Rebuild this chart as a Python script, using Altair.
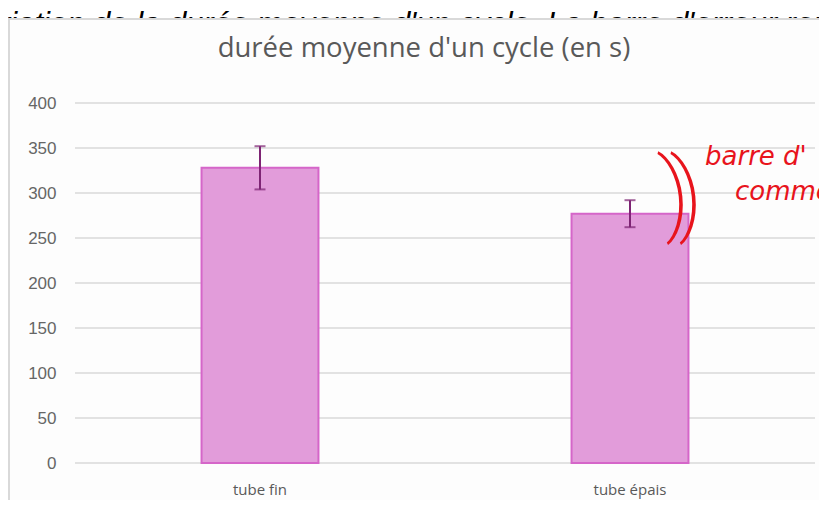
import altair as alt
import pandas as pd

categories = ["tube fin", "tube épais"]
means = [328, 277]
errors = [24, 15]
y_ticks = [0, 50, 100, 150, 200, 250, 300, 350, 400]
title_text = ["durée moyenne d'un cycle (en s)"]
background_line = ["riation de la durée moyenne d'un cycle. La barre d'erreur rep"]
note_lines = ["barre d'", "commen"]
brackets = [")", ")"]

df = pd.DataFrame({"cat": categories, "mean": means, "err": errors})
df["low"] = df["mean"] - df["err"]
df["high"] = df["mean"] + df["err"]
grid_df = pd.DataFrame({"v": y_ticks})

W, H = 740, 360

y_scale = alt.Scale(domain=[0, 400], nice=False)
y_axis = alt.Axis(
    title=None, values=y_ticks, grid=False, domain=False, ticks=False, tickSize=0,
    labelPadding=19, labelFont="Liberation Sans", labelFontSize=17,
    labelColor="#666666", zindex=1,
)
x_scale = alt.Scale(paddingInner=0.684, paddingOuter=0.342)
x_axis = alt.Axis(
    title=None, labelAngle=0, domain=False, ticks=False, tickSize=0, labelPadding=19,
    labelFont="Open Sans", labelFontSize=15, labelColor="#595959", zindex=1,
)
x_enc = alt.X("cat:N", sort=categories, scale=x_scale, axis=x_axis)

bg_text = alt.Chart(pd.DataFrame({"t": background_line})).mark_text(
    align="left", baseline="alphabetic", font="Liberation Sans", fontStyle="italic",
    fontSize=31, color="black",
).encode(x=alt.value(-75), y=alt.value(-69), text="t:N")

frame = alt.Chart(pd.DataFrame({"a": [0]})).mark_rect(
    fill="#fdfdfd", stroke="#d9d9d9", strokeWidth=2
).encode(x=alt.value(-66), x2=alt.value(W + 100), y=alt.value(-84), y2=alt.value(H + 80))

title = alt.Chart(pd.DataFrame({"t": title_text})).mark_text(
    font="Open Sans", fontSize=27.5, color="#595959", align="center", baseline="alphabetic"
).encode(x=alt.value(349), y=alt.value(-46), text="t:N")

grid = alt.Chart(grid_df).mark_rule(color="#d9d9d9", strokeWidth=1.5).encode(
    y=alt.Y("v:Q", scale=y_scale, axis=y_axis)
)

bars = alt.Chart(df).mark_bar(fill="#E29CDA", stroke="#D566C9", strokeWidth=2).encode(
    x=x_enc, y=alt.Y("mean:Q", scale=y_scale, axis=y_axis)
)

err_rule = alt.Chart(df).mark_rule(color="#7E2474", strokeWidth=2).encode(
    x=x_enc, y=alt.Y("low:Q", scale=y_scale, axis=y_axis), y2="high:Q"
)
cap_low = alt.Chart(df).mark_tick(color="#7E2474", size=11, thickness=2).encode(
    x=x_enc, y=alt.Y("low:Q", scale=y_scale, axis=y_axis)
)
cap_high = alt.Chart(df).mark_tick(color="#7E2474", size=11, thickness=2).encode(
    x=x_enc, y=alt.Y("high:Q", scale=y_scale, axis=y_axis)
)

red = "#E8141C"
br1 = alt.Chart(pd.DataFrame({"t": brackets[:1]})).mark_text(
    font="Roboto", fontWeight=200, fontSize=92, color=red, align="center", baseline="middle", angle=354
).encode(x=alt.value(600), y=alt.value(92), text="t:N")
br2 = alt.Chart(pd.DataFrame({"t": brackets[1:]})).mark_text(
    font="Roboto", fontWeight=200, fontSize=92, color=red, align="center", baseline="middle", angle=354
).encode(x=alt.value(613), y=alt.value(92), text="t:N")
note1 = alt.Chart(pd.DataFrame({"t": note_lines[:1]})).mark_text(
    font="DejaVu Sans", fontStyle="italic", fontSize=26, color=red, align="left", baseline="alphabetic"
).encode(x=alt.value(630), y=alt.value(62), text="t:N")
note2 = alt.Chart(pd.DataFrame({"t": note_lines[1:]})).mark_text(
    font="DejaVu Sans", fontStyle="italic", fontSize=26, color=red, align="left", baseline="alphabetic"
).encode(x=alt.value(660), y=alt.value(97), text="t:N")

chart = alt.layer(
    bg_text, frame, title, grid, bars, err_rule, cap_low, cap_high, br1, br2, note1, note2
).properties(
    width=W, height=H,
    autosize=alt.AutoSizeParams(type="none"),
    padding={"left": 67, "top": 95, "right": 4, "bottom": 37},
).configure_view(stroke=None).configure(background="white")

chart.save("out.html", embed_options={"renderer": "svg", "actions": False})
